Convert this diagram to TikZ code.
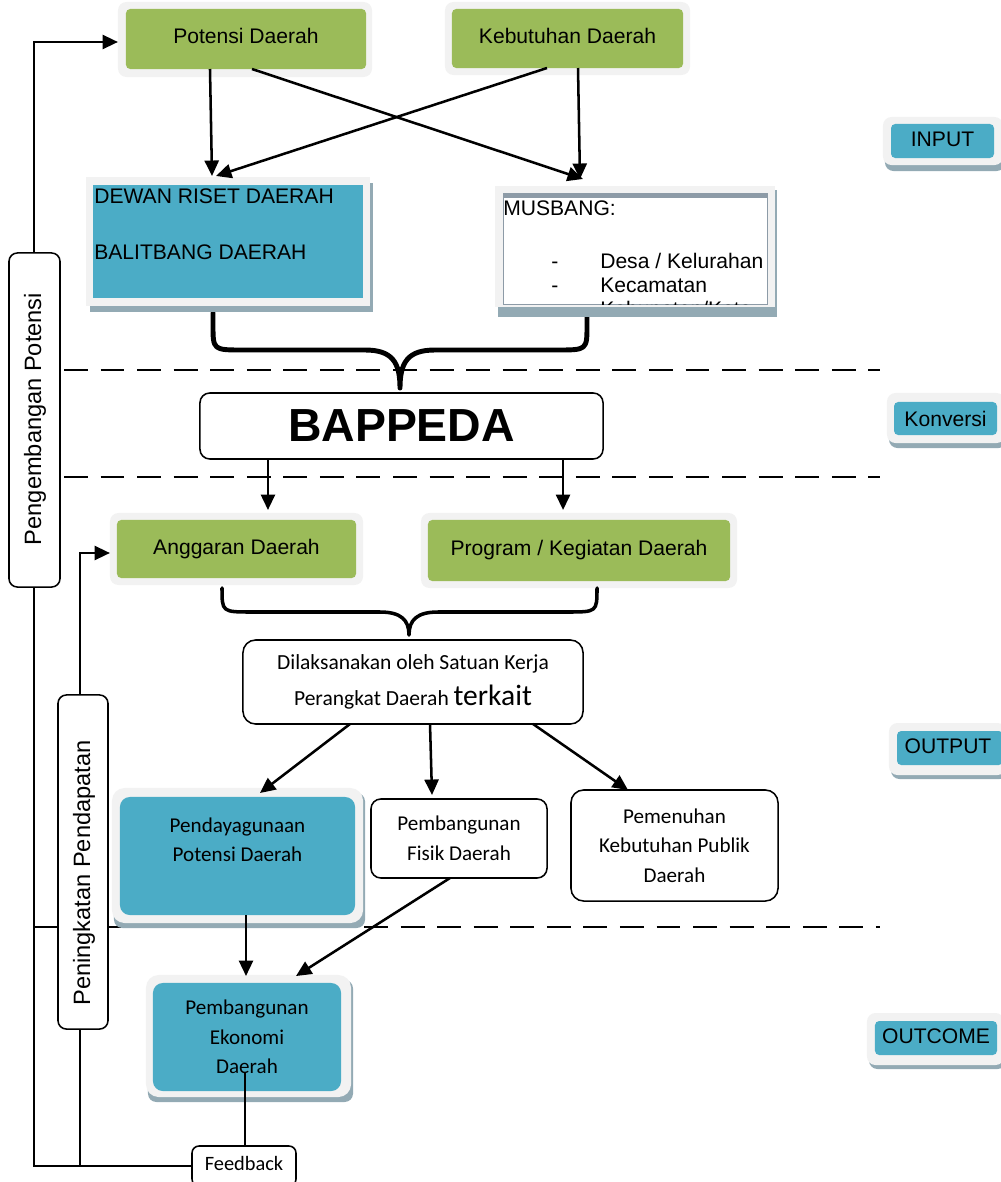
\documentclass[tikz,border=0pt]{standalone}
\usepackage{fontspec}
\setmainfont{Liberation Sans}
\newfontfamily\calib{Carlito}
\usetikzlibrary{arrows.meta}
\definecolor{grn}{HTML}{9BBB59}
\definecolor{blu}{HTML}{4BACC6}
\definecolor{frmc}{HTML}{F2F2F2}
\definecolor{shd}{HTML}{93AAB4}
\definecolor{barc}{HTML}{8D9BA7}
\begin{document}
\begin{tikzpicture}[x=0.025cm,y=-0.025cm,
  arr/.style={line width=1.8pt,-{Triangle[length=11pt,width=10pt]}},
  ln/.style={line width=1.6pt},
  dsh/.style={line width=1.5pt, dash pattern=on 17pt off 9pt},
  frm/.style={fill=frmc, rounded corners=6pt, inner sep=0pt, outer sep=0pt},
  shdw/.style={fill=shd, rounded corners=6pt},
  inb/.style={inner sep=0pt, outer sep=0pt, rounded corners=3pt},
  txt/.style={font=\fontsize{15}{17}\selectfont},
  ctxt/.style={font=\calib\fontsize{15}{21}\selectfont, align=center},
  wbox/.style={draw, line width=1.1pt, rounded corners=7pt, fill=white, inner sep=0pt, outer sep=0pt},
  brace/.style={line cap=round, line join=round},
]
\useasboundingbox (0,0) rectangle (1000,1182);

% dashed separators
\draw[dsh] (64,370) -- (880,370);
\draw[dsh] (64,477) -- (880,477);
\draw[dsh] (35,927) -- (880,927);

% ---------- INPUT row ----------
\node[frm, minimum width=6.35cm, minimum height=1.875cm] (potf) at (245,39.5) {};
\node[inb, fill=grn, minimum width=6cm, minimum height=1.5cm, txt] (pot) at (246,39) {\raisebox{4pt}{Potensi Daerah}};
\node[frm, minimum width=6.125cm, minimum height=1.825cm] (kebf) at (567.5,38.5) {};
\node[inb, fill=grn, minimum width=5.775cm, minimum height=1.475cm, txt] (keb) at (567.5,38.5) {\raisebox{4pt}{Kebutuhan Daerah}};

% brace 1
\draw[line width=3.5pt, brace] (213,313) -- (213,325) .. controls (213,350) .. (243,350) -- (365,350)
  .. controls (392,350) and (400,362) .. (400,388)
  .. controls (400,362) and (408,350) .. (435,350) -- (557,350)
  .. controls (587,350) .. (587,325) -- (587,313);

% DEWAN box
\fill[shd] (90,183) rectangle (373,312);
\node[frm, rounded corners=0pt, minimum width=7.1cm, minimum height=3.225cm] (dewf) at (228,241.5) {};
\node[inb, rounded corners=0pt, fill=blu, minimum width=6.75cm, minimum height=2.825cm] (dew) at (228,241.5) {};
\node[txt, anchor=base west, inner sep=0pt] (dew1) at (94,203) {DEWAN RISET DAERAH};
\node[txt, anchor=base west, inner sep=0pt] (dew2) at (94,259) {BALITBANG DAERAH};

% MUSBANG box
\fill[shd] (498,190) rectangle (777,317);
\node[frm, rounded corners=0pt, minimum width=7cm, minimum height=3.025cm] (musf) at (635,246.5) {};
\node[inb, rounded corners=0pt, fill=white, draw=barc, line width=0.6pt, minimum width=6.6cm, minimum height=2.775cm] (mus) at (635,248.5) {};
\fill[barc] (503,193) rectangle (767,197.5);
\begin{scope}
  \clip (503,193) rectangle (767,304);
  \node[txt, anchor=base west, inner sep=0pt] (mus0) at (503,215) {MUSBANG:};
  \node[txt, anchor=base, inner sep=0pt] (mus1d) at (555,268) {-};
  \node[txt, anchor=base west, inner sep=0pt] (mus1) at (600,268) {Desa / Kelurahan};
  \node[txt, anchor=base, inner sep=0pt] (mus2d) at (555,292) {-};
  \node[txt, anchor=base west, inner sep=0pt] (mus2) at (600,292) {Kecamatan};
  \node[txt, anchor=base, inner sep=0pt] (mus3d) at (555,316) {-};
  \node[txt, anchor=base west, inner sep=0pt] (mus3) at (600,316) {Kabupaten/Kota};
\end{scope}

% arrows input
\draw[arr] ([xshift=2.1cm]pot.south west) -- (212,176);
\draw[arr] ([xshift=2.375cm]keb.south west) -- (216,176);
\draw[arr] ([xshift=3.15cm]pot.south west) -- (583,179);
\draw[arr] ([xshift=3.15cm]keb.south west) -- (580,179);

% ---------- BAPPEDA ----------
\node[wbox, minimum width=10.075cm, minimum height=1.65cm, font=\bfseries\fontsize{33}{36}\selectfont] (bap) at (401.5,426) {BAPPEDA};
\draw[arr] ([xshift=1.7cm]bap.south west) -- ++(0,51);
\draw[arr] ([xshift=9.075cm]bap.south west) -- ++(0,51);

% ---------- Anggaran / Program ----------
\node[frm, minimum width=6.325cm, minimum height=1.8cm] (angf) at (236.5,549) {};
\node[inb, fill=grn, minimum width=5.975cm, minimum height=1.45cm, txt] (ang) at (236.5,549) {\raisebox{3pt}{Anggaran Daerah}};
\node[frm, minimum width=7.9cm, minimum height=1.875cm] (prgf) at (579,550.5) {};
\node[inb, fill=grn, minimum width=7.55cm, minimum height=1.525cm, txt] (prg) at (579,550.5) {\raisebox{4pt}{Program / Kegiatan Daerah}};

% brace 2
\draw[line width=2.5pt, brace] (222,588) .. controls (222,612) .. (252,612) -- (380,612)
  .. controls (401,612) and (409,620) .. (409,635)
  .. controls (409,620) and (417,612) .. (438,612) -- (567,612)
  .. controls (597,612) .. (597,588);

% ---------- Dilaksanakan ----------
\node[wbox, rounded corners=9pt, minimum width=8.5cm, minimum height=2.1cm, align=center,
  font=\calib\fontsize{15.3}{25.5}\selectfont] (dil) at (413,682)
  {Dilaksanakan oleh Satuan Kerja\\Perangkat Daerah {\fontsize{21}{22}\selectfont terkait}};

% ---------- Output row ----------
\node[shdw, minimum width=6.275cm, minimum height=3.375cm, inner sep=0pt] (pendsh) at (239.5,860.5) {};
\node[frm, rounded corners=9pt, minimum width=6.275cm, minimum height=3.375cm] (pendf) at (237.5,855.5) {};
\node[inb, rounded corners=7pt, fill=blu, minimum width=5.875cm, minimum height=2.95cm] (pend) at (237.5,856) {};
\node[ctxt, font=\calib\fontsize{15}{20.6}\selectfont] (pendt) at (237.5,840) {Pendayagunaan\\Potensi Daerah};

\node[wbox, minimum width=4.4cm, minimum height=1.975cm, ctxt, font=\calib\fontsize{15}{21.3}\selectfont] (fis) at (459,838.5) {Pembangunan\\Fisik Daerah};
\node[wbox, rounded corners=9pt, minimum width=5.175cm, minimum height=2.775cm, ctxt] (pem) at (674.5,845.5) {Pemenuhan\\Kebutuhan Publik\\Daerah};

\draw[arr] ([xshift=2.675cm]dil.south west) -- ++(-90,69);
\draw[arr] ([xshift=4.675cm]dil.south west) -- ++(2,71);
\draw[arr] ([xshift=7.25cm]dil.south west) -- ++(95,66);

% ---------- Outcome ----------
\node[shdw, minimum width=5.125cm, minimum height=3.05cm, inner sep=0pt] (ekosh) at (250.5,1041) {};
\node[frm, rounded corners=9pt, minimum width=5.125cm, minimum height=3.05cm] (ekof) at (248.5,1036) {};
\node[inb, rounded corners=7pt, fill=blu, minimum width=4.7cm, minimum height=2.7cm, ctxt] (eko) at (247,1037) {Pembangunan\\Ekonomi\\Daerah};

\draw[arr] ([xshift=3.15cm]pend.south west) -- ++(0,61);
\draw[arr] ([xshift=1.975cm]fis.south west) -- ++(-154,98);

% ---------- Feedback ----------
\node[wbox, rounded corners=5pt, minimum width=2.6cm, minimum height=1cm, font=\calib\fontsize{14.5}{17}\selectfont] (fb) at (244,1166) {\raisebox{3pt}{Feedback}};
\coordinate (ekol) at (245,1072);
\draw[ln] (ekol) -- (fb.north -| ekol);
\draw[arr] (fb.west) -- (34,1166) -- (34,42) -- (potf.west |- 0,42);
\draw[arr] (80,1166) -- (80,553) -- (angf.west |- 0,553);

% ---------- Left labels ----------
\node[wbox, rounded corners=6pt, minimum width=1.275cm, minimum height=8.35cm] (peng) at (34.5,420) {};
\node[rotate=90, font=\fontsize{16.8}{19}\selectfont, inner sep=0pt] (pengt) at (35,419) {Pengembangan Potensi};
\node[wbox, rounded corners=6pt, minimum width=1.25cm, minimum height=8.35cm] (pent) at (83,862) {};
\node[rotate=90, font=\fontsize{16.8}{19}\selectfont, inner sep=0pt] (pentt) at (84,873) {Peningkatan Pendapatan};

% ---------- Right labels ----------
\node[shdw, minimum width=3cm, minimum height=1.2cm, inner sep=0pt] (insh) at (945,147) {};
\node[frm, minimum width=3cm, minimum height=1.2cm] (inf) at (943,141) {};
\node[inb, fill=blu, minimum width=2.575cm, minimum height=0.85cm, txt] (inp) at (942.5,141) {\raisebox{3pt}{INPUT}};

\node[shdw, minimum width=2.95cm, minimum height=1.25cm, inner sep=0pt] (kosh) at (948,423) {};
\node[frm, minimum width=2.95cm, minimum height=1.25cm] (kof) at (946,418) {};
\node[inb, fill=blu, minimum width=2.575cm, minimum height=0.825cm, txt] (kon) at (945.5,418.5) {Konversi};

\node[shdw, minimum width=2.925cm, minimum height=1.3cm, inner sep=0pt] (oush) at (949.5,753) {};
\node[frm, minimum width=2.925cm, minimum height=1.3cm] (ouf) at (947.5,749) {};
\node[inb, fill=blu, minimum width=2.65cm, minimum height=0.85cm] (out) at (950,748) {};
\node[txt, inner sep=0pt] (outt) at (948,746) {OUTPUT};

\node[shdw, minimum width=3.425cm, minimum height=1.3cm, inner sep=0pt] (ocsh) at (937.5,1043) {};
\node[frm, minimum width=3.425cm, minimum height=1.3cm] (ocf) at (935.5,1039) {};
\node[inb, fill=blu, minimum width=3.05cm, minimum height=0.85cm, txt] (oc) at (936,1038) {\raisebox{3pt}{OUTCOME}};
\end{tikzpicture}
\end{document}
